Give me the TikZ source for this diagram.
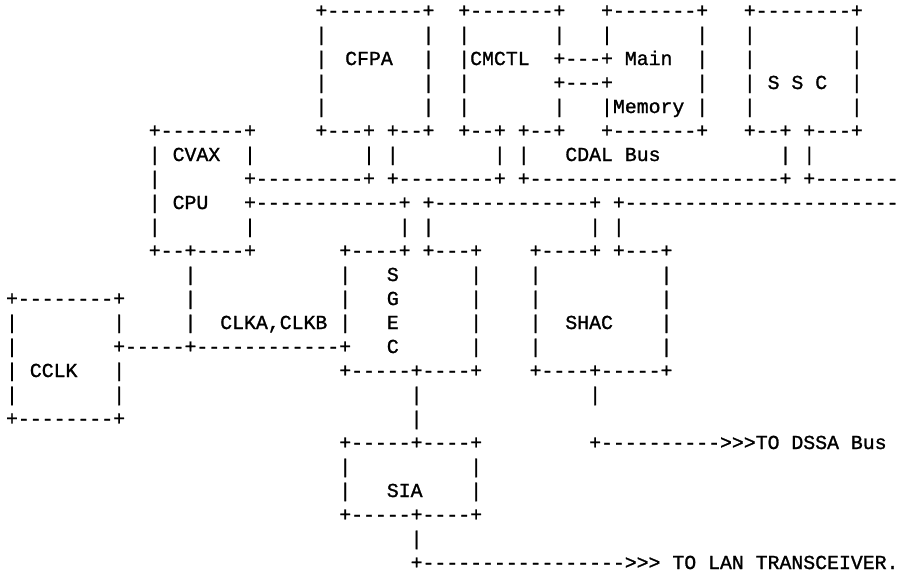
\documentclass[tikz,border=0pt]{standalone}
\usepackage{fontspec}
\setmonofont{Liberation Mono}[FakeBold=1.2]
\newcommand\ascfont{\fontsize{19.83pt}{24pt}\selectfont\ttfamily}
\tikzset{asc/.style={anchor=base west, inner sep=0pt, outer sep=0pt, font=\ascfont, text=black}}
% #1 name, #2 column, #3 row, #4 text
\newcommand\pc[4]{\node[asc] (#1) at ({12pt+11.9pt*(#2)-5.95pt},{-17pt-24.0pt*(#3)}) {#4};}
\begin{document}
\begin{tikzpicture}
\fill[white] (0,0) rectangle (901pt,-571pt);
\useasboundingbox (0,0) rectangle (901pt,-571pt);
% vertical bars
\foreach \r/\c in {1/26,1/35,1/38,1/46,1/50,1/58,1/62,1/71,
                   2/26,2/35,2/38,2/58,2/62,2/71,
                   3/26,3/35,3/38,3/58,3/62,3/71,
                   4/26,4/35,4/38,4/46,4/50,4/58,4/62,4/71,
                   6/12,6/20,6/30,6/32,6/41,6/43,6/65,6/67,
                   7/12,8/12,
                   9/12,9/20,9/33,9/35,9/49,9/51,
                   11/15,11/28,11/39,11/44,11/55,
                   12/15,12/28,12/39,12/44,12/55,
                   13/0,13/9,13/15,13/28,13/39,13/44,13/55,
                   14/0,14/39,14/44,14/55,
                   15/0,15/9,
                   16/0,16/9,16/34,16/49,
                   17/34,
                   19/28,19/39,20/28,20/39,
                   22/34}
  {\pc{v\r-\c}{\c}{\r}{|}}
% horizontal pieces
\pc{cfpaTop}{26}{0}{+--------+}
\pc{cmctlTop}{38}{0}{+-------+}
\pc{memTop}{50}{0}{+-------+}
\pc{sscTop}{62}{0}{+--------+}
\pc{linkA}{46}{2}{+---+}
\pc{linkB}{46}{3}{+---+}
\pc{cvaxTop}{12}{5}{+-------+}
\pc{cfpaBot}{26}{5}{+---+ +--+}
\pc{cmctlBot}{38}{5}{+--+ +--+}
\pc{memBot}{50}{5}{+-------+}
\pc{sscBot}{62}{5}{+--+ +---+}
\pc{cdalA}{20}{7}{+---------+}
\pc{cdalB}{32}{7}{+--------+}
\pc{cdalC}{43}{7}{+---------------------+}
\pc{cdalD}{67}{7}{+-------}
\pc{cpuA}{20}{8}{+------------+}
\pc{cpuB}{35}{8}{+-------------+}
\pc{cpuC}{51}{8}{+-----------------------}
\pc{cvaxBot}{12}{10}{+--+----+}
\pc{sgecTop}{28}{10}{+----+ +---+}
\pc{shacTop}{44}{10}{+----+ +---+}
\pc{cclkTop}{0}{12}{+--------+}
\pc{clkLine}{9}{14}{+-----+------------+}
\pc{sgecBot}{28}{15}{+-----+----+}
\pc{shacBot}{44}{15}{+----+-----+}
\pc{cclkBot}{0}{17}{+--------+}
\pc{siaTop}{28}{18}{+-----+----+}
\pc{dssa}{49}{18}{+---------->>>TO DSSA Bus}
\pc{siaBot}{28}{21}{+-----+----+}
\pc{lan}{34}{23}{+----------------->>> TO LAN TRANSCEIVER.}
% labels
\pc{cfpa}{28.5}{2}{CFPA}
\pc{cmctl}{39}{2}{CMCTL}
\pc{main}{52}{2}{Main}
\pc{ssc}{64}{3}{S S C}
\pc{memory}{51}{4}{Memory}
\pc{cvax}{14}{6}{CVAX}
\pc{cdal}{47}{6}{CDAL Bus}
\pc{cpu}{14}{8}{CPU}
\pc{sgecS}{32}{11}{S}
\pc{sgecG}{32}{12}{G}
\pc{sgecE}{32}{13}{E}
\pc{sgecC}{32}{14}{C}
\pc{clk}{18}{13}{CLKA,CLKB}
\pc{shac}{47}{13}{SHAC}
\pc{cclk}{2}{15}{CCLK}
\pc{sia}{32}{20}{SIA}
\end{tikzpicture}
\end{document}
